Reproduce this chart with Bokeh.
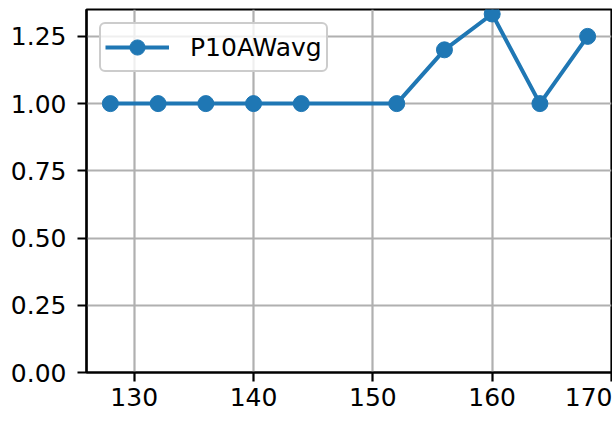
from bokeh.plotting import figure
from bokeh.models import FixedTicker, PrintfTickFormatter, Range1d
from bokeh.embed import file_html
from bokeh.resources import INLINE

x_vals = [128, 132, 136, 140, 144, 152, 156, 160, 164, 168]
y_vals = [1.0, 1.0, 1.0, 1.0, 1.0, 1.0, 1.2, 1.3333, 1.0, 1.25]
series_name = "P10AWavg"
x_ticks = [130, 140, 150, 160, 170]
y_ticks = [0.0, 0.25, 0.5, 0.75, 1.0, 1.25]

FONT = "DejaVu Sans"
BLUE = "#1f77b4"

p = figure(width=612, height=420, output_backend="svg", toolbar_location=None,
           x_range=Range1d(126, 170), y_range=Range1d(0, 1.35),
           min_border_left=86, min_border_right=1, min_border_top=9, min_border_bottom=48)

p.outline_line_color = "black"
p.outline_line_width = 2.2
p.background_fill_color = "white"
p.border_fill_color = "white"

for ax in (p.xaxis[0], p.yaxis[0]):
    ax.major_label_text_font = FONT
    ax.major_label_text_font_size = "25px"
    ax.major_label_text_color = "black"
    ax.major_tick_out = 9
    ax.major_tick_in = 0
    ax.major_tick_line_width = 2.2
    ax.minor_tick_line_color = None
    ax.axis_line_width = 2.2
p.xaxis[0].major_label_standoff = 6
p.yaxis[0].major_label_standoff = 11

p.xaxis[0].ticker = FixedTicker(ticks=x_ticks)
p.yaxis[0].ticker = FixedTicker(ticks=y_ticks)
p.yaxis[0].formatter = PrintfTickFormatter(format="%.2f")

p.xgrid.ticker = FixedTicker(ticks=x_ticks)
p.ygrid.ticker = FixedTicker(ticks=y_ticks)
for g in (p.xgrid[0], p.ygrid[0]):
    g.grid_line_color = "#b0b0b0"
    g.grid_line_width = 2.2

p.line(x_vals, y_vals, line_color=BLUE, line_width=4, legend_label=series_name)
p.scatter(x_vals, y_vals, size=16, fill_color=BLUE, line_color=BLUE, legend_label=series_name)

lg = p.legend[0]
lg.location = "top_left"
lg.margin = 13
lg.padding = 4
lg.label_text_font = FONT
lg.label_text_font_size = "25px"
lg.label_text_color = "black"
lg.glyph_width = 64
lg.glyph_height = 38
lg.label_height = 38
lg.label_standoff = 21
lg.border_line_color = "#cccccc"
lg.border_line_width = 2.2
lg.border_line_alpha = 1.0
lg.background_fill_alpha = 0.8
lg.border_radius = 6

open("out.html", "w").write(file_html(p, INLINE))
